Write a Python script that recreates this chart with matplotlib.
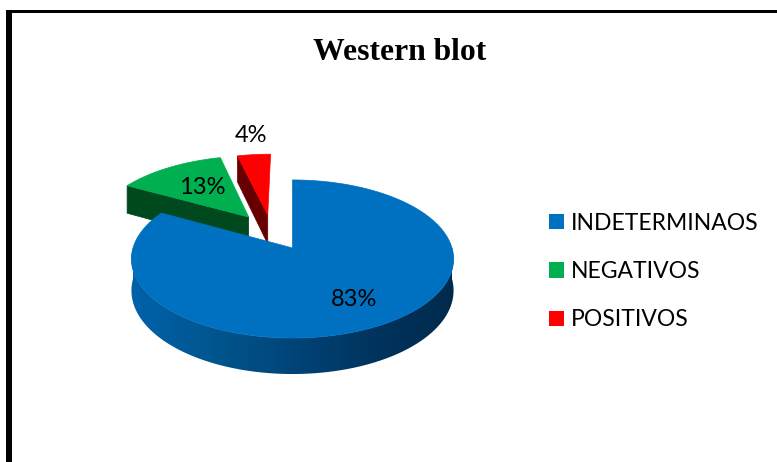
import numpy as np
import matplotlib
matplotlib.use("Agg")
import matplotlib.pyplot as plt
from matplotlib.patches import Polygon, Patch, Rectangle
from matplotlib.colors import to_rgb

categories = ["INDETERMINAOS", "NEGATIVOS", "POSITIVOS"]
values = [83, 13, 4]
title = "Western blot"

top_colors = ["#0070C0", "#00B050", "#FF0000"]
wall_colors = [None, "#00481E", "#660000"]
offsets = [(0.0, 0.0), (-0.291, 0.4235), (-0.165, 0.455)]
label_pos = [(354, 300), (202, 188), (251, 136)]

W, H = 777, 462
fig = plt.figure(figsize=(W / 100, H / 100), dpi=100)
ax = fig.add_axes([0, 0, 1, 1])
ax.set_xlim(0, W)
ax.set_ylim(H, 0)
ax.axis("off")

CX, CY, RX, RY, K, D = 292.5, 248.0, 159.5, 77.5, 0.139, 31.0


def project(u, v, drop=0.0):
    w = 1 + K * np.asarray(v, float)
    return CX + RX * np.asarray(u, float) / w, CY - (RY * np.asarray(v, float) - drop) / w


def face(start, end, off, drop=0.0, n=200):
    t = np.radians(np.linspace(start, end, n))
    u = np.concatenate([[off[0]], off[0] + np.sin(t)])
    v = np.concatenate([[off[1]], off[1] + np.cos(t)])
    x, y = project(u, v, drop)
    return np.column_stack([x, y])


fractions = np.array(values, float) / sum(values)
edges = np.concatenate([[0], np.cumsum(fractions) * 360])

# exploded slices first, the large slice sits in front of them
for i in [1, 2]:
    a0, a1, off = edges[i], edges[i + 1], offsets[i]
    r = np.radians(a0)
    ur = [off[0], off[0] + np.sin(r)]
    vr = [off[1], off[1] + np.cos(r)]
    x0, y0 = project(ur, vr)
    x1, y1 = project(ur, vr, D)
    wall = np.column_stack([np.r_[x0, x1[::-1]], np.r_[y0, y1[::-1]]])
    ax.add_patch(Polygon(wall, closed=True, fc=wall_colors[i], ec=wall_colors[i], lw=0.5, zorder=2))
    ax.add_patch(Polygon(face(a0, a1, off), closed=True, fc=top_colors[i], ec=top_colors[i], lw=0.5, zorder=3))

# side wall of the large slice: smooth horizontal shading clipped to the rim band
t = np.radians(np.linspace(90, 270, 181))
xt, yt = project(np.sin(t), np.cos(t))
xb, yb = project(np.sin(t), np.cos(t), D)
band = np.column_stack([np.r_[xt, xb[::-1]], np.r_[yt, yb[::-1]]])
stops = [to_rgb("#0062AB"), to_rgb("#00568F"), to_rgb("#004478"), to_rgb("#00345E"), to_rgb("#002A4C")]
xs = np.linspace(0, 1, 400)
grad = np.stack([np.interp(xs, np.linspace(0, 1, 5), [c[k] for c in stops]) for k in range(3)], axis=-1)[None, :, :]
x_lo, x_hi = band[:, 0].min(), band[:, 0].max()
y_lo, y_hi = band[:, 1].min(), band[:, 1].max()
img = ax.imshow(grad, extent=(x_lo, x_hi, y_hi, y_lo), aspect="auto", zorder=4, interpolation="bilinear")
clip = Polygon(band, closed=True, transform=ax.transData, fc="none", ec="none")
ax.add_patch(clip)
img.set_clip_path(clip)
ax.set_xlim(0, W)
ax.set_ylim(H, 0)

ax.add_patch(Polygon(face(edges[0], edges[1], offsets[0]), closed=True,
                     fc=top_colors[0], ec=top_colors[0], lw=0.5, zorder=5))

for val, (x, y) in zip(values, label_pos):
    ax.text(x, y, f"{val}%", ha="center", va="center", family="Lato", fontsize=17,
            color="black", zorder=6)

ax.text(400, 52, title, ha="center", va="center", family="Liberation Serif",
        fontweight="bold", fontsize=22.8, color="black", zorder=6)

# frame, cut by the image at the bottom and right
ax.add_patch(Rectangle((6, 10), 5.5, H, fc="black", ec="none", zorder=7))
ax.add_patch(Rectangle((6, 10), W, 3, fc="black", ec="none", zorder=7))

handles = [Patch(fc=c, ec="none", label=n) for c, n in zip(top_colors, categories)]
leg = ax.legend(handles=handles, loc="center left", bbox_to_anchor=(549 / W, 1 - 271.5 / H),
                frameon=False, borderpad=0, borderaxespad=0,
                handlelength=0.655, handleheight=0.655, handletextpad=0.3, labelspacing=1.2,
                prop={"family": "Lato", "size": 16.5})

fig.savefig("out.png", dpi=100, facecolor="white")
